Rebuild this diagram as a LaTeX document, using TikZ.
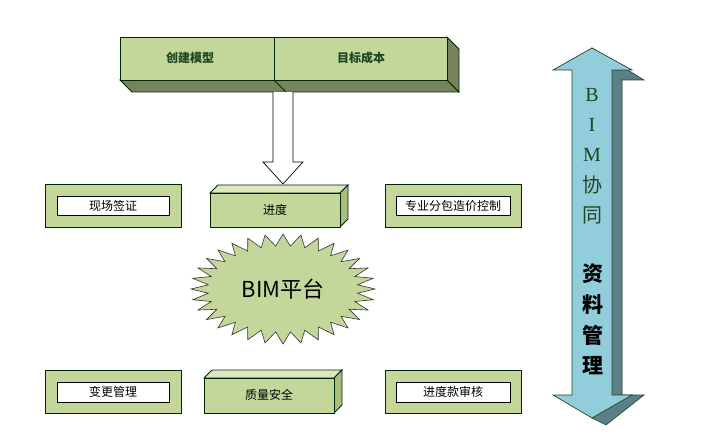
\documentclass[tikz,border=0pt]{standalone}
\usepackage{fontspec}
\setmainfont{Liberation Serif}
\newfontfamily\cjk{Noto Sans CJK SC}
\usetikzlibrary{shapes.symbols}
\definecolor{gf}{HTML}{C4D79B}
\definecolor{gd}{HTML}{76845C}
\definecolor{gs}{HTML}{A9BE7E}
\definecolor{gl}{HTML}{DDE8C2}
\definecolor{bl}{HTML}{92CDDC}
\definecolor{bd}{HTML}{5A8088}
\definecolor{tg}{HTML}{1E4620}
\tikzset{
 ln/.style={draw=black!85!green, line width=0.8pt},
 outer/.style={ln, fill=gf},
 inner/.style={draw=black, fill=white, line width=0.6pt},
 lbl/.style={font=\cjk\fontsize{12}{12}\selectfont, inner sep=0},
}
\begin{document}
\begin{tikzpicture}[x=1pt,y=-1pt]
\useasboundingbox (0,0) rectangle (703,435);
% top bar
\fill[gd, ln] (120,80) -- (447,80) -- (459,92) -- (132,92) -- cycle;
\fill[gd, ln] (447,37) -- (459,49) -- (459,92) -- (447,80) -- cycle;
\draw[ln] (274,80) -- (286,92);
\draw[outer] (120,37) rectangle (447,80);
\draw[ln] (274,37) -- (274,80);
\node[lbl, text=tg, font=\cjk\bfseries\fontsize{12}{12}\selectfont] (t1) at (190,58) {创建模型};
\node[lbl, text=tg, font=\cjk\bfseries\fontsize{12}{12}\selectfont] (t2) at (361,58) {目标成本};
% block arrow
\draw[fill=white, line width=0.7pt] (273,92) -- (273,162) -- (263,162) -- (283,184) -- (303,162) -- (293,162) -- (293,92);
% side boxes
\draw[outer] (45,184) rectangle (181,227);
\draw[inner] (57,196) rectangle (169,215);
\node[lbl] (a) at (113,205.5) {现场签证};
\draw[outer] (385,184) rectangle (521,227);
\draw[inner] (396,196) rectangle (510,215);
\node[lbl] (b) at (453,205.5) {专业分包造价控制};
\draw[outer] (45,370) rectangle (181,413);
\draw[inner] (57,382) rectangle (169,402);
\node[lbl] (c) at (113,392) {变更管理};
\draw[outer] (385,370) rectangle (521,413);
\draw[inner] (396,382) rectangle (510,402);
\node[lbl] (d) at (453,392) {进度款审核};
% 3D boxes
\draw[ln, fill=gl] (210,193) -- (218,185) -- (348,185) -- (340,193) -- cycle;
\draw[ln, fill=gs] (340,193) -- (348,185) -- (348,219) -- (340,227) -- cycle;
\draw[outer] (210,193) rectangle (340,227);
\node[lbl] (e) at (275,210) {进度};
\draw[ln, fill=gl] (204,378) -- (212,370) -- (342,370) -- (334,378) -- cycle;
\draw[ln, fill=gs] (334,378) -- (342,370) -- (342,405) -- (334,413) -- cycle;
\draw[outer] (204,378) rectangle (334,413);
\node[lbl] (f) at (269,395) {质量安全};
% star
\draw[fill=gf, draw=black!80, line width=0.6pt]
 plot[samples=65, domain=0:360, variable=\t]
 ({283+(mod(round(\t/5.625),2)==0 ? 92 : 75)*cos(\t)},
  {289+(mod(round(\t/5.625),2)==0 ? 55 : 43)*sin(\t)}) -- cycle;
\node[inner sep=0, font=\cjk\fontsize{22}{22}\selectfont] (s) at (283,289) {BIM平台};
% double arrow
\fill[bd, draw=tg, line width=0.6pt] (592,48) -- (644,80) -- (622,80) -- (622,395) -- (644,395) -- (606,425) -- (592,418) -- cycle;
\draw[fill=bl, draw=tg, line width=0.7pt] (592,48) -- (632,70) -- (612,70) -- (612,395) -- (632,395) -- (592,418) -- (553,395) -- (572,395) -- (572,70) -- (553,70) -- cycle;
\foreach \ch/\yy in {B/95,I/125,M/155}
  \node[text=tg, font=\fontsize{20}{20}\selectfont, inner sep=0] at (592,\yy) {\ch};
\node[text=tg, font=\cjk\fontsize{20}{20}\selectfont, inner sep=0] (g1) at (592,185) {协};
\node[text=tg, font=\cjk\fontsize{20}{20}\selectfont, inner sep=0] (g2) at (592,215) {同};
\foreach \ch/\yy in {资/274,料/304,管/335,理/366}
  \node[font=\cjk\bfseries\fontsize{21}{21}\selectfont, inner sep=0] at (593,\yy) {\ch};
\end{tikzpicture}
\end{document}
